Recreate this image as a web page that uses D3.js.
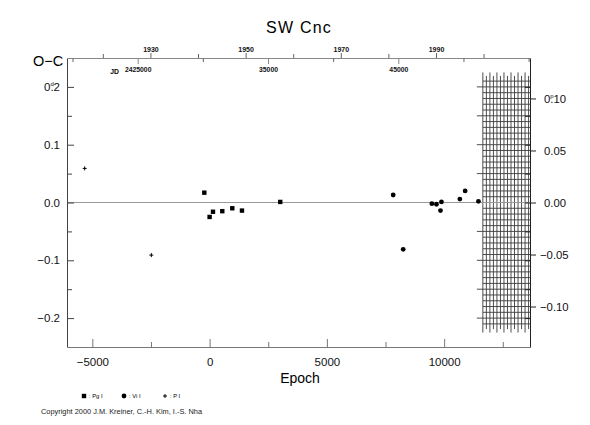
<!DOCTYPE html>
<html>
<head>
<meta charset="utf-8">
<script src="https://cdn.jsdelivr.net/npm/d3@7"></script>
<style>
  body { margin: 0; background: #fff; }
  svg { display: block; font-family: "Liberation Sans", Arial, sans-serif; }
</style>
</head>
<body>
<div id="chart"></div>
<script>
var pgEpoch = [-226, 0, 144, 541, 967, 1380, 3012]
var pgOC    = [0.017, -0.025, -0.016, -0.015, -0.010, -0.014, 0.001]
var viEpoch = [7827, 8253, 9476, 9672, 9843, 9885, 10669, 10895, 11462]
var viOC    = [0.013, -0.081, -0.002, -0.003, -0.014, 0.001, 0.006, 0.020, 0.002]
var peEpoch = [-5326, -2484]
var peOC    = [0.059, -0.091]

var yTicks     = [-0.2, -0.1, 0, 0.1, 0.2]
var yMinor     = [-0.15, -0.05, 0.05, 0.15]
var phaseTicks = [-0.10, -0.05, 0, 0.05, 0.10]
var xTicks     = [-5000, 0, 5000, 10000]
var xMinor     = [-2500, 2500, 7500, 12500]
var jdTicks    = [2425000, 2435000, 2445000]
var jdMinor    = [2420000, 2430000, 2440000, 2450000, 2455000]
var yearTicks  = [1930, 1950, 1970, 1990]
var yearMinor  = [1920, 1940, 1960, 1980, 2000]

var legendKinds  = ["pg", "vi", "pe"]
var legendLabels = [": Pg I", ": Vi I", ": P I"]

// ephemeris used for the top (JD) and right (phase) axes
var period = 1.80, t0 = 2430519
var hatchFrom = 11650

var width = 590, height = 425
var plotLeft = 67, plotRight = 530, plotTop = 58, plotBottom = 347

var svg = d3.select("#chart").append("svg")
    .attr("width", width)
    .attr("height", height)

var x = d3.scaleLinear().domain([-6080, 13660]).range([plotLeft, plotRight])
var y = d3.scaleLinear().domain([-0.25, 0.25]).range([plotBottom, plotTop])
var yPhase = d3.scaleLinear().domain([-0.25 / period, 0.25 / period]).range([plotBottom, plotTop])
var xJD = d3.scaleLinear()
    .domain(x.domain().map(function(e) { return t0 + period * e }))
    .range(x.range())
var xYear = d3.scaleLinear()
    .domain(xJD.domain().map(function(jd) { return 2000 + (jd - 2451545) / 365.25 }))
    .range(x.range())

function noDomain(g) { g.select(".domain").remove() }
function colour(g, c) {
  g.selectAll("line, path").attr("stroke", c)
  g.selectAll("text").attr("fill", "#111")
}
// first label gets its unit written small above the decimal point
function unitLabel(sel, unit) {
  sel.each(function() {
    var t = d3.select(this), s = t.text(), dot = s.indexOf(".")
    t.text("")
    t.append("tspan").text(s.slice(0, dot))
    t.append("tspan").attr("font-size", 6).attr("dy", -5).text(unit)
    t.append("tspan").attr("dx", -3.3).attr("dy", 5).text(s.slice(dot))
  })
}

// hatched block after the last minimum
var hx = d3.range(hatchFrom, 13660, 150)
var hy = d3.range(-21, 22)
var hatch = svg.append("g").attr("stroke", "#3a3a3a").attr("stroke-width", 0.9)
hatch.selectAll("line.h")
    .data(hy)
  .enter().append("line")
    .attr("class", "h")
    .attr("x1", function(k) { return x(hatchFrom) - (k % 5 == 0 ? 6 : 0) })
    .attr("x2", plotRight)
    .attr("y1", function(k) { return y(k * 0.01) })
    .attr("y2", function(k) { return y(k * 0.01) })
hatch.selectAll("line.v")
    .data(hx)
  .enter().append("line")
    .attr("class", "v")
    .attr("x1", function(e) { return x(e) })
    .attr("x2", function(e) { return x(e) })
    .attr("y1", function(e, i) { return y(i % 2 ? 0.219 : 0.225) })
    .attr("y2", function(e, i) { return y(i % 2 ? -0.219 : -0.225) })

// zero line
svg.append("line")
    .attr("x1", plotLeft).attr("x2", plotRight)
    .attr("y1", y(0)).attr("y2", y(0))
    .attr("stroke", "#999").attr("stroke-width", 1)

// left axis
var lAxis = svg.append("g")
    .attr("transform", "translate(" + plotLeft + ",0)")
    .call(d3.axisLeft(y).tickValues(yTicks).tickSize(-7).tickSizeOuter(0)
      .tickPadding(7).tickFormat(d3.format(".1f")))
    .call(colour, "#444")
lAxis.selectAll("text").attr("font-size", 11.5)
lAxis.selectAll("text").filter(function(d) { return d == 0.2 }).call(unitLabel, "d")
svg.append("g")
    .attr("transform", "translate(" + plotLeft + ",0)")
    .call(d3.axisLeft(y).tickValues(yMinor).tickSize(-5).tickFormat(""))
    .call(noDomain).call(colour, "#444")

// right axis: day ticks inside, phase ticks outside
svg.append("g")
    .attr("transform", "translate(" + plotRight + ",0)")
    .call(d3.axisRight(y).tickValues(yTicks.concat(yMinor)).tickSize(-5).tickFormat(""))
    .call(noDomain).call(colour, "#222")
var rAxis = svg.append("g")
    .attr("transform", "translate(" + plotRight + ",0)")
    .call(d3.axisRight(yPhase).tickValues(phaseTicks).tickSize(6).tickSizeOuter(0)
      .tickFormat(d3.format(".2f")))
    .call(colour, "#222")
rAxis.selectAll("text")
    .attr("font-size", 11.3)
    .attr("x", function(d) { return d < 0 ? 10 : 14 })
rAxis.selectAll("text").filter(function(d) { return d == 0.10 }).call(unitLabel, "p")

// bottom axis
svg.append("g")
    .attr("transform", "translate(0," + plotBottom + ")")
    .call(d3.axisBottom(x).tickValues(xTicks).tickSize(-8).tickSizeOuter(0)
      .tickPadding(11).tickFormat(d3.format("d")))
    .call(colour, "#777")
    .selectAll("text").attr("font-size", 11.5)
svg.append("g")
    .attr("transform", "translate(0," + plotBottom + ")")
    .call(d3.axisBottom(x).tickValues(xMinor).tickSize(-5).tickFormat(""))
    .call(noDomain).call(colour, "#777")

// top axes: JD below the line, years above
svg.append("g")
    .attr("transform", "translate(0," + plotTop + ")")
    .call(d3.axisBottom(xJD).tickValues(jdTicks).tickSize(6).tickSizeOuter(0).tickPadding(3.5)
      .tickFormat(function(d) { return d == 2425000 ? "2425000" : String(d - 2400000) }))
    .call(colour, "#888")
    .selectAll("text").attr("font-size", 6.8).attr("font-weight", "bold")
svg.append("g")
    .attr("transform", "translate(0," + plotTop + ")")
    .call(d3.axisBottom(xJD).tickValues(jdMinor).tickSize(4).tickFormat(""))
    .call(noDomain).call(colour, "#666")
svg.append("g")
    .attr("transform", "translate(0," + plotTop + ")")
    .call(d3.axisTop(xYear).tickValues(yearTicks).tickSize(5).tickPadding(1.5)
      .tickFormat(d3.format("d")))
    .call(noDomain).call(colour, "#666")
    .selectAll("text").attr("font-size", 7).attr("font-weight", "bold")
svg.append("g")
    .attr("transform", "translate(0," + plotTop + ")")
    .call(d3.axisTop(xYear).tickValues(yearMinor).tickSize(4).tickFormat(""))
    .call(noDomain).call(colour, "#666")
svg.append("text")
    .attr("x", 119).attr("y", plotTop + 15.5)
    .attr("text-anchor", "end")
    .attr("font-size", 6.8).attr("font-weight", "bold")
    .text("JD")

// symbols
function drawMark(g, kind, cx, cy) {
  if (kind == "pg") {
    g.append("rect").attr("x", cx - 2.2).attr("y", cy - 2.2)
      .attr("width", 4.4).attr("height", 4.4).attr("fill", "#000")
  } else if (kind == "vi") {
    g.append("circle").attr("cx", cx).attr("cy", cy).attr("r", 2.4).attr("fill", "#000")
  } else {
    g.append("path")
      .attr("d", "M" + (cx - 2) + "," + cy + "H" + (cx + 2) + "M" + cx + "," + (cy - 2) + "V" + (cy + 2))
      .attr("stroke", "#000").attr("stroke-width", 1)
  }
}

var marks = svg.append("g")
pgEpoch.forEach(function(e, i) { drawMark(marks, "pg", x(e), y(pgOC[i])) })
viEpoch.forEach(function(e, i) { drawMark(marks, "vi", x(e), y(viOC[i])) })
peEpoch.forEach(function(e, i) { drawMark(marks, "pe", x(e), y(peOC[i])) })

// titles
svg.append("text")
    .attr("x", 299).attr("y", 33)
    .attr("text-anchor", "middle")
    .attr("font-size", 16).attr("letter-spacing", 1.2)
    .text("SW Cnc")
svg.append("text")
    .attr("x", 33).attr("y", 66)
    .attr("font-size", 14.5)
    .text("O\u2212C")
svg.append("text")
    .attr("x", 300).attr("y", 383)
    .attr("text-anchor", "middle")
    .attr("font-size", 14)
    .text("Epoch")

// legend
var legendX = [84, 124, 165]
var legend = svg.append("g")
legendKinds.forEach(function(k, i) {
  drawMark(legend, k, legendX[i], 396)
  legend.append("text")
    .attr("x", legendX[i] + 5).attr("y", 398)
    .attr("font-size", 5.8)
    .text(legendLabels[i])
})

svg.append("text")
    .attr("x", 41).attr("y", 414)
    .attr("font-size", 7.4).attr("fill", "#222")
    .text("Copyright 2000 J.M. Kreiner, C.-H. Kim, I.-S. Nha")
</script>
</body>
</html>
